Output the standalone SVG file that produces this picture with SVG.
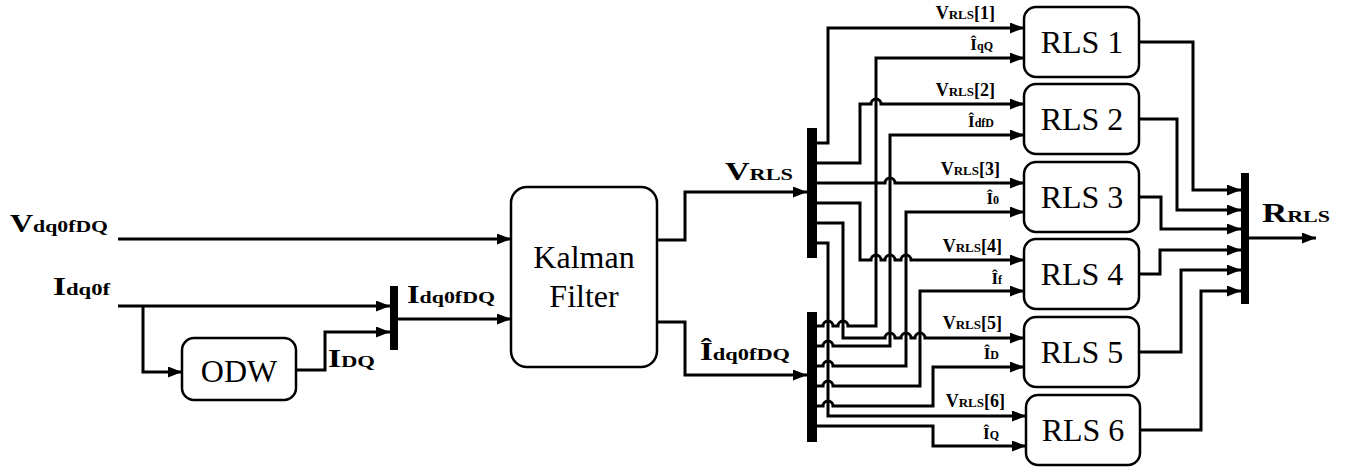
<svg xmlns="http://www.w3.org/2000/svg" width="1351" height="470" viewBox="0 0 1351 470">
<defs>
<style>
.w{fill:none;stroke:#000;stroke-width:3;stroke-linejoin:miter}
.a{marker-end:url(#ah)}
.box{fill:#fff;stroke:#000;stroke-width:2.5}
.bus{fill:#000}
.bt{font-family:"Liberation Serif","Times New Roman",serif;font-size:32px;text-anchor:middle;fill:#000}
.lb{font-family:"Liberation Serif","Times New Roman",serif;font-weight:bold;fill:#000}
.sl{font-family:"Liberation Serif","Times New Roman",serif;font-weight:bold;fill:#000;text-anchor:end}
.m{font-size:25px}
.s{font-size:17px}
</style>
<marker id="ah" markerWidth="14" markerHeight="11" refX="14" refY="5.5" orient="auto" markerUnits="userSpaceOnUse"><path d="M0,0 L14,5.5 L0,11 z" fill="#000"/></marker>
</defs>

<g id="connectors">
<path class="w a" d="M118 239 H511"/>
<path class="w a" d="M118 306 H390"/>
<path class="w a" d="M143 306 V372 H182"/>
<path class="w a" d="M296 370 H325 V332 H390"/>
<path class="w a" d="M398 319 H511"/>
<path class="w a" d="M657 240 H685 V192 H807"/>
<path class="w a" d="M657 322 H685 V375 H807"/>

<path class="w a" d="M817 143 H828 V28 H1024"/>
<path class="w a" d="M817 163 H860 V104 H871 A5 5 0 0 1 881 104 H1024"/>
<path class="w a" d="M817 183 H885 A5 5 0 0 1 895 183 H1024"/>
<path class="w a" d="M817 203 H860 V260 H871 A5 5 0 0 1 881 260 H885 A5 5 0 0 1 895 260 H901 A5 5 0 0 1 911 260 H1024"/>
<path class="w a" d="M817 223 H843 V338 H885 A5 5 0 0 1 895 338 H901 A5 5 0 0 1 911 338 H915 A5 5 0 0 1 925 338 H1024"/>
<path class="w a" d="M817 243 H828 V416 H1026"/>

<path class="w a" d="M817 326 H823 A5 5 0 0 1 833 326 H838 A5 5 0 0 1 848 326 H876 V58 H1024"/>
<path class="w a" d="M817 346 H823 A5 5 0 0 1 833 346 H890 V135 H1024"/>
<path class="w a" d="M817 366 H823 A5 5 0 0 1 833 366 H906 V212 H1024"/>
<path class="w a" d="M817 386 H823 A5 5 0 0 1 833 386 H920 V291 H1024"/>
<path class="w a" d="M817 406 H823 A5 5 0 0 1 833 406 H933 V367 H1024"/>
<path class="w a" d="M817 426 H933 V446 H1026"/>

<path class="w a" d="M1139 42 H1193 V190 H1241"/>
<path class="w a" d="M1139 119 H1177 V210 H1241"/>
<path class="w a" d="M1139 197 H1161 V229 H1241"/>
<path class="w a" d="M1139 274 H1160 V250 H1241"/>
<path class="w a" d="M1139 352 H1181 V270 H1241"/>
<path class="w a" d="M1140 430 H1201 V291 H1241"/>
<path class="w a" d="M1249 238 H1316"/>
</g>

<g id="bus-in"><rect class="bus" x="390" y="286" width="8" height="64"/></g>
<g id="bus-vrls"><rect class="bus" x="807" y="128" width="10" height="130"/></g>
<g id="bus-ihat"><rect class="bus" x="807" y="312" width="10" height="130"/></g>
<g id="bus-out"><rect class="bus" x="1241" y="173" width="8" height="131"/></g>

<g id="odw">
<rect class="box" x="182" y="338" width="114" height="62" rx="12"/>
<text class="bt" x="239" y="382">ODW</text>
</g>
<g id="kalman">
<rect class="box" x="511" y="187" width="146" height="180" rx="16"/>
<text class="bt" x="584" y="268">Kalman</text>
<text class="bt" x="584" y="307">Filter</text>
</g>

<g id="rls1"><rect class="box" x="1024" y="7" width="115" height="70" rx="12"/><text class="bt" x="1082" y="53">RLS 1</text></g>
<g id="rls2"><rect class="box" x="1024" y="84" width="115" height="70" rx="12"/><text class="bt" x="1082" y="130">RLS 2</text></g>
<g id="rls3"><rect class="box" x="1024" y="162" width="115" height="70" rx="12"/><text class="bt" x="1082" y="208">RLS 3</text></g>
<g id="rls4"><rect class="box" x="1024" y="239" width="115" height="70" rx="12"/><text class="bt" x="1082" y="285">RLS 4</text></g>
<g id="rls5"><rect class="box" x="1024" y="317" width="115" height="70" rx="12"/><text class="bt" x="1082" y="363">RLS 5</text></g>
<g id="rls6"><rect class="box" x="1026" y="395" width="114" height="70" rx="12"/><text class="bt" x="1083" y="441">RLS 6</text></g>

<g id="labels">
<text class="lb" x="10" y="232" textLength="98" lengthAdjust="spacingAndGlyphs"><tspan class="m">V</tspan><tspan class="s">dq0fDQ</tspan></text>
<text class="lb" x="53" y="295" textLength="57" lengthAdjust="spacingAndGlyphs"><tspan class="m">I</tspan><tspan class="s">dq0f</tspan></text>
<text class="lb" x="407" y="303" textLength="88" lengthAdjust="spacingAndGlyphs"><tspan class="m">I</tspan><tspan class="s">dq0fDQ</tspan></text>
<text class="lb" x="328" y="367" textLength="47" lengthAdjust="spacingAndGlyphs"><tspan class="m">I</tspan><tspan class="s">DQ</tspan></text>
<text class="lb" x="725" y="180" textLength="68" lengthAdjust="spacingAndGlyphs"><tspan font-size="26">V</tspan><tspan class="s">RLS</tspan></text>
<text class="lb" x="700" y="360" textLength="90" lengthAdjust="spacingAndGlyphs"><tspan class="m">Î</tspan><tspan class="s">dq0fDQ</tspan></text>
<text class="lb" x="1262" y="222" textLength="68" lengthAdjust="spacingAndGlyphs"><tspan font-size="27">R</tspan><tspan class="s">RLS</tspan></text>

<text class="sl" x="995" y="19"><tspan font-size="18">V</tspan><tspan font-size="13">RLS</tspan><tspan font-size="18">[1]</tspan></text>
<text class="sl" x="993" y="50"><tspan font-size="17">Î</tspan><tspan font-size="12">qQ</tspan></text>
<text class="sl" x="995" y="96"><tspan font-size="18">V</tspan><tspan font-size="13">RLS</tspan><tspan font-size="18">[2]</tspan></text>
<text class="sl" x="994" y="127"><tspan font-size="17">Î</tspan><tspan font-size="12">dfD</tspan></text>
<text class="sl" x="1000" y="175"><tspan font-size="18">V</tspan><tspan font-size="13">RLS</tspan><tspan font-size="18">[3]</tspan></text>
<text class="sl" x="999" y="204"><tspan font-size="17">Î</tspan><tspan font-size="12">0</tspan></text>
<text class="sl" x="1002" y="252"><tspan font-size="18">V</tspan><tspan font-size="13">RLS</tspan><tspan font-size="18">[4]</tspan></text>
<text class="sl" x="1002" y="284"><tspan font-size="17">Î</tspan><tspan font-size="12">f</tspan></text>
<text class="sl" x="1002" y="329"><tspan font-size="18">V</tspan><tspan font-size="13">RLS</tspan><tspan font-size="18">[5]</tspan></text>
<text class="sl" x="999" y="359"><tspan font-size="17">Î</tspan><tspan font-size="12">D</tspan></text>
<text class="sl" x="1005" y="407"><tspan font-size="18">V</tspan><tspan font-size="13">RLS</tspan><tspan font-size="18">[6]</tspan></text>
<text class="sl" x="999" y="439"><tspan font-size="17">Î</tspan><tspan font-size="12">Q</tspan></text>
</g>
</svg>
